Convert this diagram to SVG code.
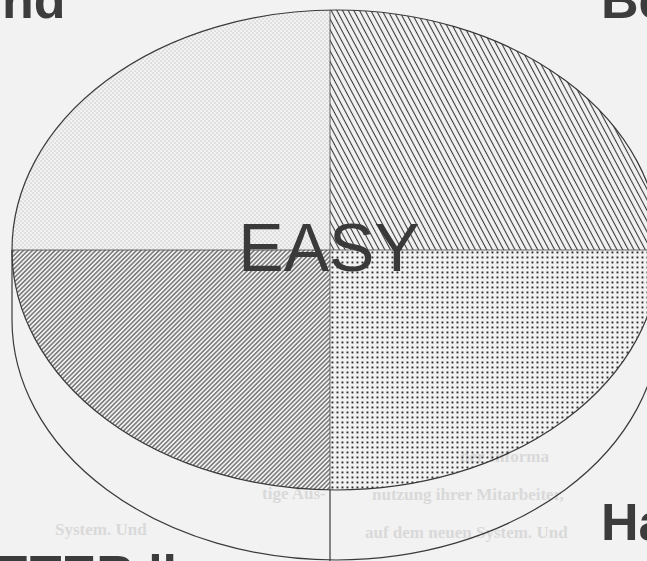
<svg xmlns="http://www.w3.org/2000/svg" width="647" height="561" viewBox="0 0 647 561">
  <style>
    .head { font-family: "Liberation Sans", Arial, sans-serif; font-weight: bold; font-size: 52px; fill: #3c3c3c; }
    .bleed { font-family: "Liberation Serif", "Times New Roman", serif; font-weight: bold; font-size: 17px; fill: #d9d9d9; }
    .outline { fill: none; stroke: #3a3a3a; stroke-width: 1.2; }
    .divider { fill: none; stroke: #555; stroke-width: 0.9; }
  </style>
  <defs>
    <pattern id="dotsLight" width="4" height="4" patternUnits="userSpaceOnUse">
      <rect x="0.5" y="0.5" width="1.1" height="1.1" fill="#b4b4b4"/>
      <rect x="2.5" y="2.5" width="1.1" height="1.1" fill="#b4b4b4"/>
    </pattern>
    <pattern id="hatchTR" width="5" height="10" patternUnits="userSpaceOnUse" patternTransform="rotate(-28)">
      <line x1="2.5" y1="-1" x2="2.5" y2="11" stroke="#3a3a3a" stroke-width="1.1"/>
    </pattern>
    <pattern id="hatchBL" width="3.2" height="10" patternUnits="userSpaceOnUse" patternTransform="rotate(45)">
      <line x1="1.6" y1="-1" x2="1.6" y2="11" stroke="#404040" stroke-width="1.05"/>
    </pattern>
    <pattern id="dotsDark" width="5" height="5" patternUnits="userSpaceOnUse">
      <rect x="1.5" y="1.5" width="1.9" height="1.9" fill="#2e2e2e"/>
    </pattern>
    <clipPath id="topFace">
      <ellipse cx="336" cy="250" rx="324" ry="240"/>
    </clipPath>
  </defs>

  <rect width="647" height="561" fill="#f2f2f2"/>

  <g id="bleed-through">
    <text class="bleed" x="460" y="462">der Informa</text>
    <text class="bleed" x="262" y="499">tige Aus-</text>
    <text class="bleed" x="372" y="500">nutzung ihrer Mitarbeiter,</text>
    <text class="bleed" x="55" y="535">System. Und</text>
    <text class="bleed" x="365" y="538">auf dem neuen System. Und</text>
  </g>

  <g id="headings">
    <text class="head" x="2" y="18">nd</text>
    <text class="head" x="601" y="18">Be</text>
    <text class="head" x="601" y="540">Ha</text>
    <text class="head" x="-5" y="592">ETER ll</text>
  </g>

  <g id="disc-side">
    <path class="outline" d="M12,250 L12,320 A324,240 0 0 0 660,320 L660,250"/>
    <line class="outline" x1="330" y1="490" x2="330" y2="561"/>
  </g>

  <g id="disc-top" clip-path="url(#topFace)">
    <rect id="q-top-left" x="0" y="0" width="330" height="250" fill="url(#dotsLight)"/>
    <rect id="q-top-right" x="330" y="0" width="330" height="250" fill="url(#hatchTR)"/>
    <rect id="q-bottom-left" x="0" y="250" width="330" height="250" fill="url(#hatchBL)"/>
    <rect id="q-bottom-right" x="330" y="250" width="330" height="250" fill="url(#dotsDark)"/>
    <line class="divider" x1="0" y1="250" x2="660" y2="250"/>
    <line class="divider" x1="330" y1="0" x2="330" y2="500"/>
  </g>
  <ellipse class="outline" cx="336" cy="250" rx="324" ry="240"/>

  <g id="label">
    <text x="329" y="271" text-anchor="middle" font-family="Liberation Sans, Arial, sans-serif" font-size="68" fill="#3a3a3a">EASY</text>
  </g>
</svg>
